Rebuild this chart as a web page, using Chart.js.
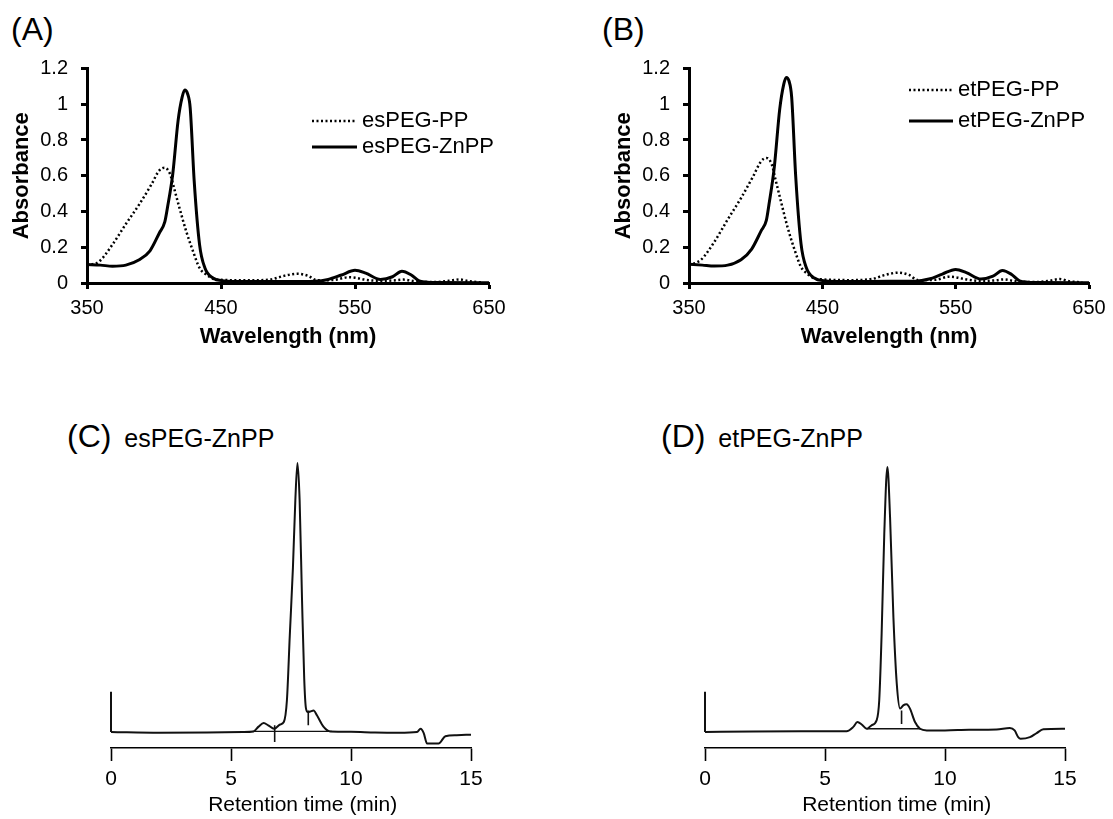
<!DOCTYPE html>
<html>
<head>
<meta charset="utf-8">
<script src="https://cdn.jsdelivr.net/npm/chart.js@4/dist/chart.umd.min.js"></script>
<style>
  body { margin: 0; background: #fff; }
  #wrap { position: relative; width: 1113px; height: 819px; overflow: hidden; font-family: "Liberation Sans", Arial, sans-serif; color: #000; }
  canvas { position: absolute; }
  .tag { position: absolute; font-size: 32px; line-height: 32px; white-space: nowrap; }
  .tag span { font-size: 25px; margin-left: 4px; }
</style>
</head>
<body>
<div id="wrap">
  <div class="tag" style="left:11px; top:13px;">(A)</div>
  <div class="tag" style="left:602px; top:13px;">(B)</div>
  <div class="tag" style="left:67px; top:420px;">(C) <span>esPEG-ZnPP</span></div>
  <div class="tag" style="left:661px; top:420px;">(D) <span>etPEG-ZnPP</span></div>
  <canvas id="chartA" width="520" height="330" style="left:0px; top:40px;"></canvas>
  <canvas id="chartB" width="511" height="330" style="left:602px; top:40px;"></canvas>
  <canvas id="chartC" width="450" height="379" style="left:60px; top:440px;"></canvas>
  <canvas id="chartD" width="450" height="379" style="left:654px; top:440px;"></canvas>
</div>
<script>
// tick labels
const wlTicks = [350, 450, 550, 650];
const absTicks = [0, 0.2, 0.4, 0.6, 0.8, 1, 1.2];
const absTickLabels = ['0', '0.2', '0.4', '0.6', '0.8', '1', '1.2'];
const timeTicks = [0, 5, 10, 15];

// (A) esPEG spectra
const esPPWl = [350, 359, 369, 379, 389, 398, 404, 408, 412, 415, 419, 424, 429, 434, 439, 444, 450, 470, 487, 497, 507, 515, 522, 535, 545, 550, 558, 569, 580, 586, 595, 610, 620, 628, 635, 645];
const esPPAbs = [0.10, 0.12, 0.215, 0.33, 0.44, 0.55, 0.63, 0.645, 0.61, 0.53, 0.42, 0.29, 0.18, 0.084, 0.047, 0.024, 0.018, 0.015, 0.02, 0.04, 0.052, 0.04, 0.015, 0.018, 0.032, 0.03, 0.018, 0.012, 0.015, 0.019, 0.01, 0.005, 0.012, 0.02, 0.01, 0.003];
const esZnWl = [350, 360, 369, 379, 389, 397, 404, 408, 410, 414, 418, 421, 423, 425, 427, 430, 434, 438, 444, 451, 470, 500, 520, 530, 540, 550, 558, 569, 578, 585, 592, 598, 610, 650];
const esZnAbs = [0.103, 0.10, 0.094, 0.10, 0.13, 0.18, 0.28, 0.34, 0.42, 0.61, 0.91, 1.04, 1.08, 1.06, 0.98, 0.57, 0.215, 0.084, 0.028, 0.013, 0.008, 0.008, 0.01, 0.02, 0.045, 0.071, 0.055, 0.02, 0.035, 0.066, 0.045, 0.012, 0.003, 0.002];

// (B) etPEG spectra
const etPPWl = esPPWl;
const etPPAbs = [0.10, 0.13, 0.23, 0.355, 0.475, 0.595, 0.68, 0.70, 0.665, 0.575, 0.455, 0.31, 0.19, 0.09, 0.05, 0.025, 0.02, 0.016, 0.022, 0.045, 0.058, 0.045, 0.016, 0.018, 0.035, 0.032, 0.02, 0.012, 0.015, 0.02, 0.01, 0.005, 0.012, 0.022, 0.01, 0.003];
const etZnWl = esZnWl;
const etZnAbs = [0.105, 0.10, 0.095, 0.10, 0.13, 0.19, 0.29, 0.35, 0.44, 0.65, 0.97, 1.11, 1.15, 1.13, 1.04, 0.60, 0.22, 0.085, 0.028, 0.013, 0.008, 0.01, 0.01, 0.022, 0.05, 0.076, 0.058, 0.022, 0.038, 0.07, 0.048, 0.012, 0.003, 0.002];

// (C) esPEG-ZnPP chromatogram (arbitrary units, main peak ~100)
const esTime = [0, 2, 4, 5.5, 5.94, 6.15, 6.36, 6.55, 6.8, 7.05, 7.2, 7.33, 7.45, 7.58, 7.68, 7.77, 7.86, 7.96, 8.05, 8.12, 8.2, 8.3, 8.44, 8.58, 8.86, 9.14, 10, 11, 12, 12.75, 12.9, 13.03, 13.17, 13.65, 13.93, 14.4, 15];
const esSignal = [0, -0.3, -0.2, 0, 0.2, 2, 3.3, 2.5, 1.2, 2.8, 3.7, 11.8, 36, 61, 86, 100, 86, 49, 20, 9, 7.4, 7.6, 8, 6.2, 1.9, 0.2, 0.1, -0.2, -0.3, 0, 1.2, -0.4, -4.3, -4.3, -1.6, -1.2, -1.0];
const esCutTime = [5.9, 9.2, 6.82, 6.82, 8.22, 8.22];
const esCutSignal = [0.2, 0.2, 2.5, -3.7, 8, 2.5];

// (D) etPEG-ZnPP chromatogram
const etTime = [0, 2, 4, 5.5, 5.9, 6.18, 6.35, 6.53, 6.74, 6.94, 7.15, 7.26, 7.36, 7.47, 7.6, 7.71, 7.85, 7.99, 8.13, 8.26, 8.4, 8.54, 8.75, 8.96, 9.24, 10, 11, 12.15, 12.7, 12.9, 13.05, 13.15, 13.54, 13.82, 14.1, 15];
const etSignal = [0, 0.2, 0.3, 0.3, 0.3, 1.9, 3.7, 2.8, 1.2, 2.5, 4.3, 11.8, 36.6, 73.7, 98.5, 80, 42.7, 18, 8.7, 9.9, 10.3, 8.7, 3.7, 1.2, 0.6, 0.6, 0.8, 0.9, 1.5, 0.6, -1.9, -2.5, -1.9, -0.4, 1.0, 1.2];
const etCutTime = [6.74, 9.0, 8.19, 8.19];
const etCutSignal = [1.2, 1.2, 8, 3];

// scale bar at t = 0
const barTime = [0, 0];
const barSignal = [0, 15];

const FONT = '"Liberation Sans", Arial, sans-serif';
Chart.defaults.font.family = FONT;
Chart.defaults.color = '#000';

const pts = (xs, ys) => xs.map((x, i) => ({ x: x, y: ys[i] }));
const fixedTicks = list => scale => { scale.ticks = list.map(v => ({ value: v })); };

// simple line legend drawn inside the plot
const lineLegend = {
  id: 'lineLegend',
  afterDraw(chart, args, opts) {
    if (!opts.rows) return;
    const ctx = chart.ctx;
    chart.data.datasets.forEach((ds, i) => {
      const y = opts.rows[i];
      ctx.save();
      ctx.strokeStyle = ds.borderColor;
      ctx.lineWidth = ds.borderWidth;
      ctx.setLineDash(ds.borderDash || []);
      ctx.beginPath();
      ctx.moveTo(opts.x0, y);
      ctx.lineTo(opts.x1, y);
      ctx.stroke();
      ctx.setLineDash([]);
      ctx.fillStyle = '#000';
      ctx.font = '22px ' + FONT;
      ctx.textBaseline = 'middle';
      ctx.fillText(ds.label, opts.x1 + 5, y);
      ctx.restore();
    });
  }
};

function spectrumChart(id, ppLabel, ppData, znLabel, znData, legend, padRight) {
  return new Chart(document.getElementById(id), {
    type: 'line',
    data: {
      datasets: [
        { label: ppLabel, data: ppData, borderColor: '#000', borderWidth: 2.5, borderDash: [2, 2.5], pointRadius: 0, cubicInterpolationMode: 'monotone' },
        { label: znLabel, data: znData, borderColor: '#000', borderWidth: 3, pointRadius: 0, cubicInterpolationMode: 'monotone' }
      ]
    },
    options: {
      responsive: false,
      animation: false,
      events: [],
      layout: { padding: { left: 0, top: 28.5, right: padRight, bottom: 7 } },
      plugins: {
        legend: { display: false },
        tooltip: { enabled: false },
        lineLegend: legend
      },
      scales: {
        x: {
          type: 'linear', min: 350, max: 650,
          afterBuildTicks: fixedTicks(wlTicks),
          afterFit: s => { s.height = 80; },
          ticks: { font: { size: 20 }, padding: 7, color: '#000' },
          grid: { drawOnChartArea: false, tickLength: 6, tickWidth: 3, tickColor: '#000' },
          border: { color: '#000', width: 3 },
          title: { display: true, text: 'Wavelength (nm)', font: { size: 22, weight: 'bold' }, color: '#000', padding: { top: 0, bottom: 13 } }
        },
        y: {
          min: 0, max: 1.2,
          afterBuildTicks: fixedTicks(absTicks),
          afterFit: s => { s.width = 87; },
          ticks: { font: { size: 20 }, padding: 13, color: '#000', callback: v => absTickLabels[absTicks.indexOf(v)] },
          grid: { drawOnChartArea: false, tickLength: 6, tickWidth: 3, tickColor: '#000' },
          border: { color: '#000', width: 3 },
          title: { display: true, text: 'Absorbance', font: { size: 22, weight: 'bold' }, color: '#000', padding: { top: 9, bottom: 0 } }
        }
      }
    },
    plugins: [lineLegend]
  });
}

function chromChart(id, trace, cuts) {
  const line = { borderColor: '#111', borderWidth: 2, pointRadius: 0, fill: false, clip: false };
  return new Chart(document.getElementById(id), {
    type: 'line',
    data: {
      datasets: [
        Object.assign({ label: 'bar', data: pts(barTime, barSignal) }, line),
        Object.assign({ label: 'trace', data: trace, cubicInterpolationMode: 'monotone' }, line),
        Object.assign({ label: 'cut1', data: cuts.slice(0, 2) }, line, { borderWidth: 1.3 }),
        Object.assign({ label: 'cut2', data: cuts.slice(2, 4) }, line, { borderWidth: 1.6 }),
        Object.assign({ label: 'cut3', data: cuts.slice(4, 6) }, line, { borderWidth: 1.6 })
      ]
    },
    options: {
      responsive: false,
      animation: false,
      events: [],
      layout: { padding: { left: 51, top: 17.6, right: 39, bottom: 1 } },
      plugins: { legend: { display: false }, tooltip: { enabled: false } },
      scales: {
        x: {
          type: 'linear', min: 0, max: 15,
          afterBuildTicks: fixedTicks(timeTicks),
          afterFit: s => { s.height = 70; },
          ticks: { font: { size: 21 }, padding: 6, color: '#000' },
          grid: { drawOnChartArea: false, tickLength: 13, tickWidth: 1.6, tickColor: '#000' },
          border: { color: '#000', width: 1.6 },
          title: { display: true, text: '    Retention time (min)', font: { size: 21 }, color: '#000', padding: { top: 0, bottom: 0 } }
        },
        y: { display: false, min: -5.95, max: 102 }
      }
    }
  });
}

spectrumChart('chartA', 'esPEG-PP', pts(esPPWl, esPPAbs), 'esPEG-ZnPP', pts(esZnWl, esZnAbs), { rows: [81, 107], x0: 312, x1: 357 }, 31);
spectrumChart('chartB', 'etPEG-PP', pts(etPPWl, etPPAbs), 'etPEG-ZnPP', pts(etZnWl, etZnAbs), { rows: [50, 81], x0: 307, x1: 351 }, 24);
chromChart('chartC', pts(esTime, esSignal), pts(esCutTime, esCutSignal));
chromChart('chartD', pts(etTime, etSignal), pts(etCutTime, etCutSignal));
</script>
</body>
</html>
